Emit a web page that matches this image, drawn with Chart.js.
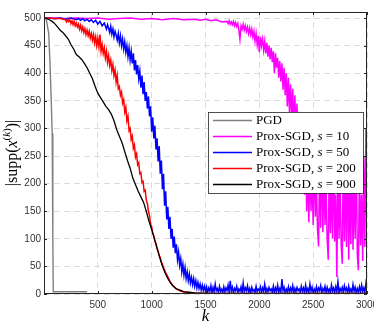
<!DOCTYPE html>
<html>
<head>
<meta charset="utf-8">
<script src="https://cdn.jsdelivr.net/npm/chart.js@4.4.1/dist/chart.umd.min.js"></script>
<style>
  html, body { margin: 0; padding: 0; background: #fff; }
  canvas { display: block; }
</style>
</head>
<body>
<canvas id="supp-chart" width="374" height="325"></canvas>
<script>
// iteration indices k between from and to (inclusive), every `by`
const range = (from, to, by) => Array.from({ length: Math.floor((to - from) / by) + 1 }, (_, i) => from + i * by);

// tick values shown on the axes
const xTickValues = [500, 1000, 1500, 2000, 2500, 3000];
const yTickValues = [0, 50, 100, 150, 200, 250, 300, 350, 400, 450, 500];

// legend entries (s = mini-batch size, null for full gradient)
const methodNames = ['PGD', 'Prox-SGD', 'Prox-SGD', 'Prox-SGD', 'Prox-SGD'];
const batchSizes = [null, 10, 50, 200, 900];
const lineColors = ['#808080', '#ff00ff', '#0000ff', '#ff0000', '#000000'];

// PGD
const pgdK = [0, 20, 44, 57, 67, 76, 81, 83, 86, 150, 250, 400];
const pgdV = [500, 499, 472, 412, 351, 291, 230, 100, 4, 4, 4, 4];

// Prox-SGD, s = 10
const s10K = [0, 100, 200, 300, 400, 500, 600, 700, 800, 900, 1000, 1100, 1200, 1300, 1400, 1450, 1500, 1550, 1600, 1650,
  ...range(1700, 3000, 10)];
const s10V = [499, 500, 499, 500, 499, 500, 498, 499, 500, 498, 499, 497, 499, 497, 498, 496, 498, 495, 497, 493,
  // 1700..2450
  494, 490, 495, 489, 493, 488, 494, 486, 492, 485, 490, 478, 462, 486, 480, 489, 478, 486, 476, 484,
  472, 482, 470, 480, 466, 476, 458, 472, 452, 468, 438, 466, 450, 462, 442, 458, 436, 455, 430, 450,
  425, 446, 420, 440, 400, 436, 410, 428, 392, 422, 385, 418, 370, 410, 360, 400, 340, 392, 330, 380,
  318, 372, 300, 360, 290, 345, 270, 330, 250, 310, 220, 290, 180, 260, 150, 240,
  // 2460..3000
  130, 250, 150, 220, 125, 270, 140, 200, 118, 86, 240, 120, 280, 112, 230, 125, 190, 100, 62, 250,
  110, 210, 100, 270, 95, 180, 31, 240, 100, 200, 90, 55, 260, 95, 220, 85, 290, 62, 200, 90,
  240, 80, 210, 100, 270, 70, 43, 230, 88, 180, 60, 250, 85, 300, 90];

// Prox-SGD, s = 50
const s50K = [0, 50, 100, 150, 200, 250, 300, 320, 340, 360, 380, 400, 420, 440, 460, 480, 500, 520, 540, 560, 580, 590,
  ...range(600, 3000, 10)];
const s50V = [500, 500, 499, 500, 498, 500, 497, 499, 496, 499, 495, 498, 494, 497, 492, 496, 489, 494, 486, 491, 480, 488,
  // 600..1500
  482, 474, 485, 471, 480, 466, 476, 469, 460, 472, 455, 468, 450, 462, 444, 457, 438, 450, 430, 446,
  424, 440, 418, 436, 405, 424, 398, 415, 390, 404, 374, 396, 362, 384, 350, 366, 336, 358, 322, 340,
  294, 320, 282, 305, 262, 282, 240, 268, 218, 242, 190, 218, 160, 186, 135, 158, 118, 140, 100, 118,
  84, 104, 74, 90, 62, 76, 52, 64, 40, 54, 34, 48, 28, 40, 24, 36, 20, 30, 17, 28,
  14, 24, 11, 21, 10, 18, 7, 16, 6, 14, 5,
  // 1510..3000
  13, 3, 11, 5, 15, 2, 12, 4, 18, 6, 10, 3, 14, 5, 9, 2, 13, 4, 11, 6,
  16, 3, 24, 5, 12, 2, 10, 6, 14, 3, 9, 5, 13, 2, 20, 4, 11, 6, 15, 3,
  10, 2, 12, 5, 8, 3, 14, 4, 9, 6, 13, 2, 11, 5, 18, 3, 10, 4, 12, 6,
  9, 3, 14, 2, 11, 5, 16, 3, 10, 4, 27, 6, 12, 2, 9, 4, 13, 3, 11, 5,
  15, 2, 10, 4, 12, 6, 9, 3, 14, 5, 11, 2, 16, 4, 10, 3, 18, 5, 12, 2,
  9, 4, 13, 3, 11, 6, 15, 2, 10, 5, 14, 3, 12, 4, 9, 2, 16, 5, 11, 3,
  13, 4, 22, 2, 10, 5, 12, 3, 15, 6, 11, 2, 14, 4, 9, 3, 17, 5, 12, 2,
  10, 4, 13, 3, 16, 5, 11, 2, 19, 8];

// Prox-SGD, s = 200
const s200K = [0, 50, 100, 150, ...range(200, 1300, 10), 1400, 1500, 3000];
const s200V = [500, 500, 499, 499,
  // 200..1300
  497, 493, 498, 494, 497, 490, 495, 488, 494, 486, 491, 484, 489, 480, 487, 477, 484, 474, 481, 470,
  478, 468, 476, 464, 472, 460, 470, 455, 466, 450, 463, 448, 470, 440, 452, 436, 446, 428, 440, 420,
  432, 414, 424, 405, 416, 396, 406, 384, 396, 372, 376, 360, 366, 346, 352, 330, 338, 314, 322, 296,
  300, 280, 286, 264, 270, 248, 254, 234, 238, 218, 220, 202, 204, 186, 188, 170, 164, 150, 142, 126,
  122, 110, 106, 96, 92, 82, 78, 70, 66, 58, 54, 48, 44, 38, 35, 31, 27, 23, 20, 17,
  15, 13, 11, 9, 8, 7, 6, 5, 5, 4, 4,
  2, 1, 1];

// Prox-SGD, s = 900
const s900K = [...range(0, 1300, 25), 1350, 1400, 1500, 3000];
const s900V = [500, 499, 497, 494, 490, 484, 478, 474, 468, 462, 452, 444, 434, 430, 425, 418, 410, 400, 390, 376, 364,
  356, 348, 340, 334, 326, 314, 298, 286, 274, 258, 242, 228, 210, 198, 186, 176, 166, 150, 132, 117,
  100, 83, 66, 50, 38, 28, 20, 14, 10, 8, 6, 4, 3, 2, 1, 1];

const seriesK = [pgdK, s10K, s50K, s200K, s900K];
const seriesV = [pgdV, s10V, s50V, s200V, s900V];

const SERIF = '"Liberation Serif", "Times New Roman", serif';
const SANS = '"Liberation Sans", Arial, sans-serif';
const AXIS_COLOR = '#262626';

function legendText(i) {
  return batchSizes[i] === null ? methodNames[i] : `${methodNames[i]}, s = ${batchSizes[i]}`;
}

// draws a run of [text, font, dy] pieces starting at x, returns end x
function drawPieces(ctx, pieces, x, y) {
  pieces.forEach(([txt, font, dy]) => {
    ctx.font = font;
    ctx.fillText(txt, x, y + (dy || 0));
    x += ctx.measureText(txt).width;
  });
  return x;
}

function piecesWidth(ctx, pieces) {
  let w = 0;
  pieces.forEach(([txt, font]) => { ctx.font = font; w += ctx.measureText(txt).width; });
  return w;
}

// MATLAB-like box, inner ticks, legend and axis titles
const matlabFrame = {
  id: 'matlabFrame',
  afterDraw(chart) {
    const { ctx, chartArea: a, scales: { x, y } } = chart;
    ctx.save();
    ctx.strokeStyle = AXIS_COLOR;
    ctx.lineWidth = 1;
    ctx.strokeRect(a.left + 0.5, a.top + 0.5, a.right - a.left - 1, a.bottom - a.top - 1);

    ctx.beginPath();
    xTickValues.forEach(v => {
      const px = Math.round(x.getPixelForValue(v)) + 0.5;
      ctx.moveTo(px, a.bottom); ctx.lineTo(px, a.bottom - 3);
      ctx.moveTo(px, a.top); ctx.lineTo(px, a.top + 3);
    });
    yTickValues.forEach(v => {
      const py = Math.round(y.getPixelForValue(v)) + 0.5;
      ctx.moveTo(a.left, py); ctx.lineTo(a.left + 3, py);
      ctx.moveTo(a.right, py); ctx.lineTo(a.right - 3, py);
    });
    ctx.stroke();

    // legend
    const lx = 208, ly = 112, lw = 155, lh = 81;
    ctx.fillStyle = '#fff';
    ctx.fillRect(lx, ly, lw, lh);
    ctx.strokeStyle = AXIS_COLOR;
    ctx.lineWidth = 0.8;
    ctx.strokeRect(lx + 0.5, ly + 0.5, lw, lh);
    ctx.textBaseline = 'middle';
    ctx.textAlign = 'left';
    chart.data.datasets.forEach((ds, i) => {
      const cy = ly + 8.5 + i * 16;
      ctx.strokeStyle = ds.borderColor;
      ctx.lineWidth = 1.5;
      ctx.beginPath();
      ctx.moveTo(lx + 5, cy); ctx.lineTo(lx + 44, cy);
      ctx.stroke();
      ctx.fillStyle = '#000';
      const normal = `13px ${SERIF}`;
      if (batchSizes[i] === null) {
        drawPieces(ctx, [[methodNames[i], normal]], lx + 48, cy);
      } else {
        drawPieces(ctx, [[`${methodNames[i]}, `, normal], ['s', `italic 13px ${SERIF}`], [` = ${batchSizes[i]}`, normal]], lx + 48, cy);
      }
    });

    // x title
    ctx.fillStyle = '#000';
    ctx.textAlign = 'center';
    ctx.font = `italic 17px ${SERIF}`;
    ctx.fillText('k', (a.left + a.right) / 2, 317);

    // y title, rotated
    const yTitle = [
      ['|supp(', `16px ${SERIF}`],
      ['x', `italic 16px ${SERIF}`],
      ['(', `11px ${SERIF}`, -6],
      ['k', `italic 11px ${SERIF}`, -6],
      [')', `11px ${SERIF}`, -6],
      [')|', `16px ${SERIF}`]
    ];
    ctx.save();
    ctx.translate(13, (a.top + a.bottom) / 2);
    ctx.rotate(-Math.PI / 2);
    ctx.textAlign = 'left';
    drawPieces(ctx, yTitle, -piecesWidth(ctx, yTitle) / 2, 0);
    ctx.restore();

    ctx.restore();
  }
};

const datasets = seriesK.map((ks, i) => ({
  label: legendText(i),
  data: ks.map((k, j) => ({ x: k, y: seriesV[i][j] })).filter(p => p.y !== undefined),
  borderColor: lineColors[i],
  borderWidth: i === 0 ? 1.4 : (i === 4 ? 1.3 : 1.5),
  pointRadius: 0,
  tension: 0,
  fill: false,
  order: seriesK.length - 1 - i
}));

new Chart(document.getElementById('supp-chart'), {
  type: 'line',
  data: { datasets },
  options: {
    responsive: false,
    devicePixelRatio: 1,
    animation: false,
    events: [],
    layout: { padding: { left: 0, top: 12, right: 7, bottom: 0 } },
    plugins: { legend: { display: false }, tooltip: { enabled: false } },
    scales: {
      x: {
        type: 'linear',
        min: 0,
        max: 3000,
        afterBuildTicks: s => { s.ticks = xTickValues.map(value => ({ value })); },
        afterFit: s => { s.height = 31; s.paddingLeft = 0; s.paddingRight = 0; },
        grid: { color: '#dcdcdc', lineWidth: 1, drawTicks: false },
        border: { display: false, dash: [6, 4] },
        ticks: { padding: 5, color: '#333', autoSkip: false, maxRotation: 0, font: { family: SANS, size: 10 }, callback: v => String(v) }
      },
      y: {
        type: 'linear',
        min: 0,
        max: 511,
        afterBuildTicks: s => { s.ticks = yTickValues.map(value => ({ value })); },
        afterFit: s => { s.width = 44; s.paddingTop = 0; s.paddingBottom = 0; },
        grid: { color: '#dcdcdc', lineWidth: 1, drawTicks: false },
        border: { display: false, dash: [6, 4] },
        ticks: { padding: 3, color: '#333', autoSkip: false, font: { family: SANS, size: 10 }, callback: v => String(v) }
      }
    }
  },
  plugins: [matlabFrame]
});
</script>
</body>
</html>
